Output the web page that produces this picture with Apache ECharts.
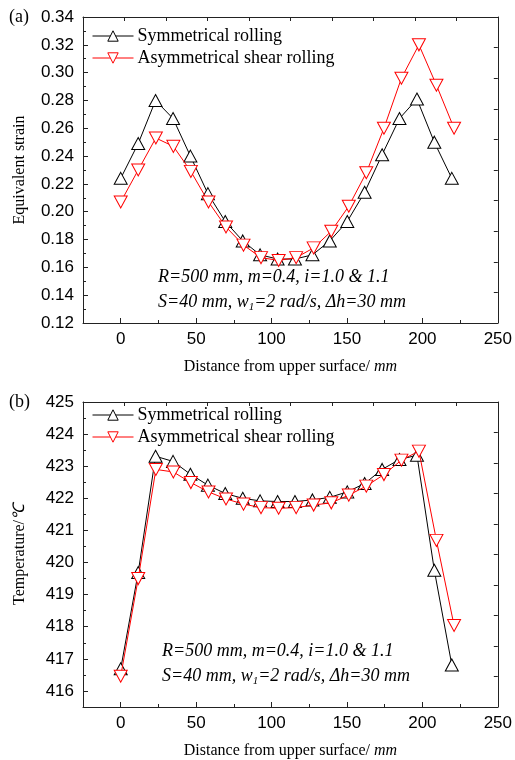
<!DOCTYPE html>
<html lang="en">
<head>
    <meta charset="utf-8">
    <title>Strain and temperature</title>
    <script type="text/javascript" src="https://cdn.jsdelivr.net/npm/echarts@6/dist/echarts.min.js"></script>
    <style>
        html, body { margin: 0; padding: 0; background: #fff; }
    </style>
</head>
<body>
<div id="main" style="width: 515px;height:760px;"></div>
<script>
    // distance from upper surface (mm)
    var xSym = [0, 11.6, 23.1, 34.7, 46.2, 57.8, 69.3, 80.9, 92.4, 104.0, 115.5, 127.1, 138.6, 150.2, 161.7, 173.3, 184.8, 196.4, 207.9, 219.5];
    var xAsym = [0, 11.6, 23.3, 34.9, 46.5, 58.2, 69.8, 81.4, 93.0, 104.7, 116.3, 127.9, 139.6, 151.2, 162.8, 174.5, 186.1, 197.7, 209.3, 221.0];

    // (a) equivalent strain
    var strainSym = [0.224, 0.249, 0.280, 0.267, 0.240, 0.213, 0.193, 0.179, 0.169, 0.166, 0.166, 0.169, 0.179, 0.193, 0.214, 0.241, 0.267, 0.281, 0.250, 0.224];
    var strainAsym = [0.207, 0.230, 0.253, 0.247, 0.229, 0.207, 0.189, 0.176, 0.167, 0.165, 0.167, 0.174, 0.186, 0.204, 0.228, 0.260, 0.296, 0.320, 0.291, 0.260];

    // (b) temperature
    var tempSym = [416.69, 419.69, 423.31, 423.15, 422.75, 422.41, 422.15, 422.0, 421.92, 421.9, 421.9, 421.95, 422.03, 422.2, 422.46, 422.9, 423.21, 423.34, 419.76, 416.81];
    var tempAsym = [416.46, 419.5, 422.9, 422.82, 422.49, 422.2, 421.98, 421.82, 421.71, 421.69, 421.71, 421.79, 421.86, 422.1, 422.38, 422.74, 423.19, 423.47, 420.69, 418.04];

    // tick labels
    var xTicks = [0, 50, 100, 150, 200, 250];
    var xMinorTicks = [-25, 25, 75, 125, 175, 225];
    var strainTicks = [0.12, 0.14, 0.16, 0.18, 0.20, 0.22, 0.24, 0.26, 0.28, 0.30, 0.32, 0.34];
    var strainMinorTicks = [0.13, 0.15, 0.17, 0.19, 0.21, 0.23, 0.25, 0.27, 0.29, 0.31, 0.33];
    var tempTicks = [416, 417, 418, 419, 420, 421, 422, 423, 424, 425];
    var tempMinorTicks = [415.5, 416.5, 417.5, 418.5, 419.5, 420.5, 421.5, 422.5, 423.5, 424.5];

    var seriesNames = ['Symmetrical rolling', 'Asymmetrical shear rolling'];

    var SERIF = '"Liberation Serif", "Times New Roman", serif';
    var SANS = '"Liberation Sans", Arial, sans-serif';
    var AXIS_COLOR = '#222';
    var downTri = 'path://M0,0 L10,0 L5,10 Z';

    function pairs(xs, ys) {
        var out = [];
        for (var i = 0; i < xs.length; i++) {
            out.push([xs[i], ys[i]]);
        }
        return out;
    }

    var myChart = echarts.init(document.getElementById('main'), null, {renderer: 'canvas'});

    var grids = [
        {left: 83, top: 17, width: 416, height: 306},
        {left: 83, top: 402, width: 416, height: 306}
    ];

    var xAxes = [];
    var yAxes = [];
    var yInfo = [
        {min: 0.12, max: 0.34, ticks: strainTicks, minor: strainMinorTicks, name: 'Equivalent strain',
            fmt: function (v) { return v.toFixed(2); }},
        {min: 415.5, max: 425, ticks: tempTicks, minor: tempMinorTicks, name: 'Temperature/{i|\u2103}',
            fmt: function (v) { return String(v); }}
    ];

    for (var g = 0; g < 2; g++) {
        // bottom axis with data and major ticks
        xAxes.push({
            type: 'value', gridIndex: g, position: 'bottom', min: -25, max: 250,
            name: 'Distance from upper surface/ {i|mm}', nameLocation: 'middle', nameGap: 36,
            nameTextStyle: {
                fontFamily: SERIF, fontSize: 16, color: '#000',
                rich: {i: {fontFamily: SERIF, fontSize: 16, fontStyle: 'italic', color: '#000'}}
            },
            axisLine: {show: true, onZero: false, lineStyle: {color: AXIS_COLOR, width: 1}},
            axisTick: {show: true, inside: true, length: 5, customValues: xTicks, lineStyle: {color: AXIS_COLOR}},
            axisLabel: {show: true, customValues: xTicks, margin: 8, fontFamily: SANS, fontSize: 17, color: '#000'},
            splitLine: {show: false}
        });
        // bottom minor ticks
        xAxes.push({
            type: 'value', gridIndex: g, position: 'bottom', min: -25, max: 250,
            axisLine: {show: false, onZero: false},
            axisTick: {show: true, inside: true, length: 3, customValues: xMinorTicks, lineStyle: {color: AXIS_COLOR}},
            axisLabel: {show: false},
            splitLine: {show: false}
        });
        // top frame
        xAxes.push({
            type: 'value', gridIndex: g, position: 'top', min: 0, max: 10, interval: 1,
            axisLine: {show: true, onZero: false, lineStyle: {color: AXIS_COLOR, width: 1}},
            axisTick: {show: true, inside: true, length: 4, lineStyle: {color: AXIS_COLOR}},
            axisLabel: {show: false},
            splitLine: {show: false}
        });

        var yi = yInfo[g];
        yAxes.push({
            type: 'value', gridIndex: g, position: 'left', min: yi.min, max: yi.max,
            name: yi.name, nameLocation: 'middle', nameGap: 55, nameRotate: 90,
            nameTextStyle: {
                fontFamily: SERIF, fontSize: 16, color: '#000',
                rich: {i: {fontFamily: SERIF, fontSize: 16, fontStyle: 'italic', color: '#000'}}
            },
            axisLine: {show: true, onZero: false, lineStyle: {color: AXIS_COLOR, width: 1}},
            axisTick: {show: true, inside: true, length: 5, customValues: yi.ticks, lineStyle: {color: AXIS_COLOR}},
            axisLabel: {show: true, customValues: yi.ticks, margin: 9, fontFamily: SANS, fontSize: 17, color: '#000', formatter: yi.fmt},
            splitLine: {show: false}
        });
        yAxes.push({
            type: 'value', gridIndex: g, position: 'left', min: yi.min, max: yi.max,
            axisLine: {show: false, onZero: false},
            axisTick: {show: true, inside: true, length: 3, customValues: yi.minor, lineStyle: {color: AXIS_COLOR}},
            axisLabel: {show: false},
            splitLine: {show: false}
        });
        yAxes.push({
            type: 'value', gridIndex: g, position: 'right', min: 0, max: 10, interval: 1,
            axisLine: {show: true, onZero: false, lineStyle: {color: AXIS_COLOR, width: 1}},
            axisTick: {show: true, inside: true, length: 4, lineStyle: {color: AXIS_COLOR}},
            axisLabel: {show: false},
            splitLine: {show: false}
        });
    }

    function lineSeries(name, g, data, color, symbol) {
        return {
            name: name, type: 'line', xAxisIndex: g * 3, yAxisIndex: g * 3,
            data: data, symbol: symbol, symbolSize: [13, 12], showAllSymbol: true,
            lineStyle: {color: color, width: 1},
            itemStyle: {color: '#fff', borderColor: color, borderWidth: 1},
            emphasis: {disabled: true},
            animation: false, z: color === '#ff0000' ? 3 : 2
        };
    }

    var series = [
        lineSeries(seriesNames[0], 0, pairs(xSym, strainSym), '#000', 'triangle'),
        lineSeries(seriesNames[1], 0, pairs(xAsym, strainAsym), '#ff0000', downTri),
        lineSeries(seriesNames[0], 1, pairs(xSym, tempSym), '#000', 'triangle'),
        lineSeries(seriesNames[1], 1, pairs(xAsym, tempAsym), '#ff0000', downTri)
    ];

    function legendAt(top) {
        return {
            data: seriesNames, orient: 'vertical', left: 92, top: top, padding: 0,
            itemWidth: 41, itemHeight: 13, itemGap: 4,
            lineStyle: {width: 1},
            itemStyle: {borderWidth: 1},
            textStyle: {fontFamily: SERIF, fontSize: 18, color: '#000', padding: [0, 0, 0, -1]},
            selectedMode: false
        };
    }

    var annotRich = {
        i: {fontFamily: SERIF, fontSize: 18, fontStyle: 'italic', color: '#222', lineHeight: 21},
        s: {fontFamily: SERIF, fontSize: 11, fontStyle: 'italic', color: '#222', lineHeight: 12, verticalAlign: 'bottom'}
    };

    function annot(x, y, text) {
        return {
            type: 'text', left: x, top: y,
            style: {text: text, rich: annotRich, font: 'italic 18px ' + SERIF}
        };
    }

    var option = {
        backgroundColor: '#fff',
        animation: false,
        grid: grids,
        xAxis: xAxes,
        yAxis: yAxes,
        legend: [legendAt(27), legendAt(406)],
        series: series,
        graphic: [
            {type: 'text', left: 9, top: 8, style: {text: '(a)', font: '18px ' + SERIF, fill: '#000'}},
            {type: 'text', left: 9, top: 393, style: {text: '(b)', font: '18px ' + SERIF, fill: '#000'}},
            annot(158, 268, '{i|R=500 mm, m=0.4, i=1.0 & 1.1}'),
            annot(158, 293, '{i|S=40 mm, w}{s|1}{i|=2 rad/s, \u0394h=30 mm}'),
            annot(162, 642, '{i|R=500 mm, m=0.4, i=1.0 & 1.1}'),
            annot(162, 667, '{i|S=40 mm, w}{s|1}{i|=2 rad/s, \u0394h=30 mm}')
        ]
    };

    myChart.setOption(option);
</script>
</body>
</html>
